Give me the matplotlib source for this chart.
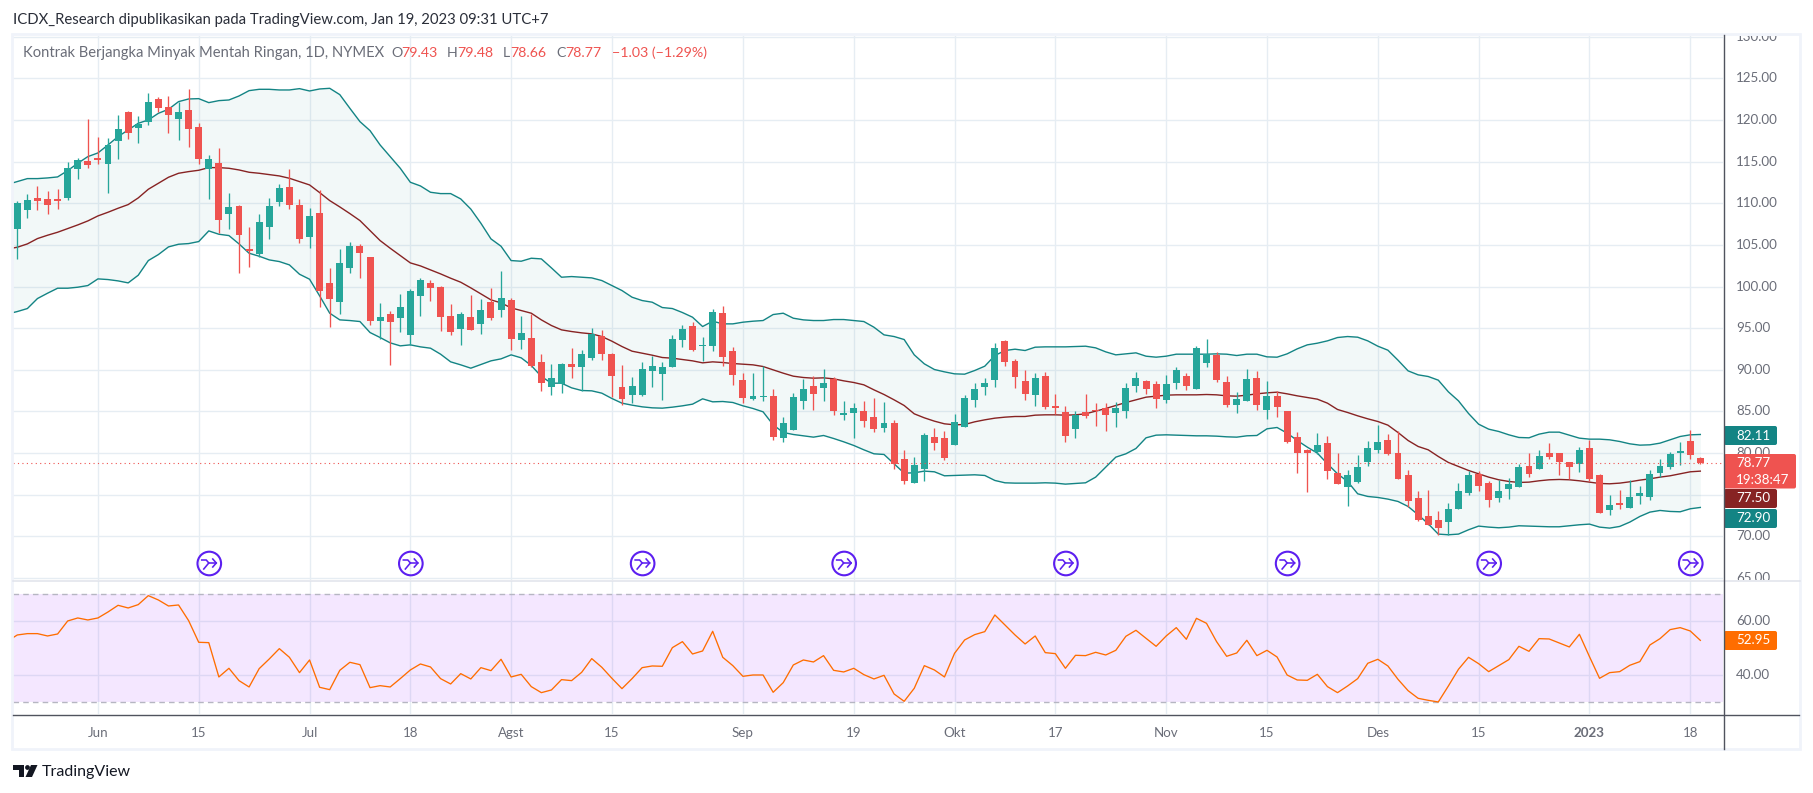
import matplotlib
matplotlib.use("Agg")
import matplotlib.pyplot as plt
import numpy as np
from matplotlib.patches import FancyBboxPatch, Rectangle, Circle, Polygon
from matplotlib.transforms import Bbox

plt.rcParams['font.family'] = ['Lato', 'DejaVu Sans']

opens = [106.92,109.20,110.64,110.52,110.52,110.64,114.12,115.04,115.44,114.72,117.48,120.96,119.04,119.76,122.52,121.56,120.12,121.20,119.16,114.12,
114.84,108.72,109.68,104.52,103.92,107.16,110.16,111.96,109.80,105.96,108.84,100.44,98.16,102.24,104.88,103.56,95.88,96.72,96.24,94.20,
98.88,100.44,99.96,96.52,94.96,96.40,95.56,98.20,97.24,98.44,93.64,93.88,91.00,88.00,88.36,90.76,90.40,91.48,94.12,91.96,
88.00,87.04,87.04,89.92,89.56,90.40,93.64,95.32,92.92,92.92,96.88,92.32,88.84,86.44,86.80,86.92,81.76,82.72,86.20,88.12,
87.88,88.96,84.52,84.76,85.00,84.28,82.96,83.56,79.24,76.36,78.04,81.88,81.76,80.92,83.08,86.32,88.00,88.84,93.52,91.12,
88.72,87.04,89.32,85.60,84.88,82.84,84.88,85.12,85.36,84.76,85.00,88.12,88.72,88.36,86.32,88.48,89.32,87.76,90.88,91.84,
88.60,85.72,86.20,89.08,85.12,86.92,85.00,81.88,80.32,80.08,81.16,77.56,75.96,76.56,78.96,80.40,81.60,80.04,77.40,74.64,
72.48,72.00,71.76,73.32,75.24,77.52,76.44,74.64,75.72,75.96,78.48,78.12,80.04,80.04,78.96,78.72,80.64,77.40,73.20,74.04,
73.44,74.88,74.76,77.64,78.36,80.04,81.48,79.43]
highs = [110.28,111.12,112.08,111.48,111.72,114.96,115.44,120.12,117.96,117.84,120.60,121.08,120.48,123.24,122.76,122.88,122.16,123.72,119.64,115.80,
116.64,111.24,109.80,107.16,108.72,110.64,112.32,114.12,110.52,109.44,111.60,102.24,104.52,105.36,105.12,103.56,98.04,97.08,99.12,99.72,
101.04,100.80,100.08,97.96,97.00,99.04,98.56,99.88,101.92,98.68,96.52,96.76,91.96,90.76,90.88,92.68,92.44,95.08,94.84,92.08,
90.64,89.20,91.00,91.72,91.00,94.24,95.44,95.80,94.00,97.36,97.72,92.80,89.68,89.68,90.52,87.76,84.28,87.28,88.96,89.32,
90.16,89.20,86.20,85.96,86.20,86.68,86.08,83.92,80.32,79.48,82.36,82.96,82.60,84.64,87.04,88.48,89.08,93.28,93.64,91.36,
90.04,89.68,89.80,87.16,85.60,85.00,87.16,85.96,85.96,86.08,88.48,89.80,88.84,88.72,89.44,90.40,89.68,92.92,93.76,92.20,
89.32,87.40,90.16,89.92,88.72,87.52,85.00,82.48,80.44,82.36,82.00,79.96,78.00,79.80,81.48,83.40,82.32,82.68,78.00,75.48,
75.60,73.08,74.04,76.44,77.88,77.88,76.68,76.80,77.04,78.72,80.04,80.40,81.24,80.04,78.96,80.76,81.60,77.52,75.00,75.60,
76.80,76.08,78.00,79.32,80.16,81.36,82.80,79.48]
lows = [103.36,108.24,109.20,108.72,109.32,110.40,112.92,114.24,114.72,111.24,115.32,117.72,117.24,119.40,120.96,118.44,117.60,116.76,114.72,110.52,
106.44,106.92,101.64,102.36,103.56,105.72,109.68,109.32,105.24,104.64,97.56,95.16,96.72,101.64,101.04,95.40,93.68,90.60,94.56,93.00,
96.48,98.28,94.68,94.24,93.04,94.84,94.36,96.04,96.40,92.44,92.56,90.40,87.52,87.04,87.28,89.08,87.52,91.24,91.24,86.80,
85.72,85.96,86.92,88.00,86.32,90.40,92.80,92.32,91.12,92.32,90.52,88.24,85.96,86.32,86.20,81.52,81.28,82.72,85.24,85.12,
86.20,84.52,83.92,81.76,83.08,82.48,82.48,78.04,76.24,76.36,76.60,80.32,79.12,80.92,83.08,85.48,87.04,88.00,90.52,87.88,
86.32,85.60,85.24,84.64,81.28,81.76,84.16,83.20,82.60,83.08,84.16,87.40,87.16,85.36,85.96,87.76,87.64,87.76,90.40,88.60,
85.48,84.76,86.20,85.12,84.04,84.28,81.16,77.56,75.28,79.84,76.84,76.24,73.68,76.44,78.48,80.04,79.80,76.92,73.56,71.88,
71.40,70.20,70.20,73.32,75.00,75.48,73.56,74.16,74.52,75.96,77.16,78.12,79.32,77.40,76.92,77.76,76.68,72.84,72.60,73.32,
73.44,73.92,74.40,77.16,78.12,78.60,79.32,78.66]
closes = [110.04,110.40,110.28,109.80,110.28,114.24,115.20,114.60,115.20,117.00,118.92,118.44,119.52,122.16,121.44,120.60,120.96,118.92,115.32,115.32,
108.00,109.56,106.20,104.28,107.76,109.68,111.84,109.80,105.72,108.48,99.48,98.52,102.84,104.88,104.04,95.88,96.36,95.70,97.56,99.48,
100.80,99.84,96.36,94.60,96.76,94.84,97.24,96.28,98.68,93.76,94.48,90.52,88.48,89.08,90.76,90.40,91.96,94.36,91.96,89.32,
86.44,88.12,90.16,90.52,90.40,93.76,94.96,92.44,93.04,97.00,91.60,89.44,86.56,86.92,86.92,81.88,83.56,86.80,87.76,87.16,
88.48,85.00,84.76,85.36,83.80,82.84,83.56,78.64,76.60,78.52,82.12,81.16,79.36,83.68,86.56,87.76,88.48,92.68,91.00,89.20,
87.16,89.08,85.48,85.36,82.00,84.52,84.40,85.00,84.52,85.36,87.88,89.08,87.76,86.44,88.36,90.04,88.12,92.68,91.96,88.84,
85.72,86.44,88.96,85.72,86.92,85.48,81.28,79.96,79.96,80.92,77.80,76.24,77.40,78.36,80.64,81.36,79.92,76.92,74.28,72.00,
71.40,71.04,73.32,75.48,77.40,76.08,74.40,75.48,76.32,78.36,77.52,79.68,79.56,78.96,78.36,80.40,76.92,72.84,73.80,73.80,
74.76,75.24,77.52,78.48,79.92,80.28,79.80,78.77]

# Bollinger bands and RSI start one bar before the first visible candle
upper = [112.25,112.60,112.96,112.96,113.04,113.16,113.92,114.80,115.60,116.04,117.00,118.00,118.80,119.60,120.00,120.80,121.28,122.20,122.52,122.56,122.08,
122.32,122.40,122.88,123.52,123.68,123.68,123.60,123.60,123.76,123.48,123.72,123.80,123.04,121.40,119.80,118.72,117.00,115.60,114.20,112.52,
112.08,111.32,111.16,111.16,110.52,109.30,107.60,105.72,104.84,103.12,103.04,103.40,103.32,102.24,101.12,101.20,101.12,101.04,100.72,100.12,
99.52,98.72,98.32,98.12,97.48,97.36,96.88,96.32,95.20,95.84,95.52,95.52,95.72,95.84,95.92,96.64,96.80,96.20,96.00,95.92,
95.92,96.04,96.04,95.92,95.80,95.12,94.20,94.00,93.64,91.80,90.72,90.04,89.76,89.52,89.48,89.92,90.44,91.72,92.32,92.48,
92.32,92.72,92.76,92.76,92.76,92.80,92.84,92.64,92.16,91.80,91.92,92.04,91.64,91.52,91.64,91.88,91.88,91.88,91.88,91.92,
91.88,91.72,91.88,91.88,91.56,91.52,91.92,92.52,93.00,93.20,93.48,93.88,94.00,93.92,93.48,92.84,92.36,91.16,89.88,89.40,
89.20,88.76,87.36,86.28,84.76,83.48,82.88,82.60,82.20,81.88,81.84,82.28,82.52,82.52,82.16,81.80,81.68,81.68,81.60,81.40,
81.12,80.96,81.00,81.20,81.60,82.00,82.20,82.24]
basis = [104.50,104.72,105.12,105.76,106.16,106.52,106.96,107.40,107.88,108.48,108.92,109.40,109.84,110.64,111.68,112.40,113.12,113.60,113.80,113.96,114.28,
114.28,114.20,114.00,113.72,113.60,113.44,113.28,113.00,112.60,112.20,111.28,110.32,109.56,108.76,107.92,106.72,105.52,104.60,103.72,102.84,
102.48,102.00,101.52,101.00,100.52,99.84,99.12,98.40,98.04,97.44,97.12,96.80,96.00,95.32,94.80,94.60,94.44,94.32,94.00,93.44,
92.80,92.24,92.00,91.76,91.48,91.40,91.24,91.08,90.84,90.96,90.88,90.76,90.68,90.60,90.40,90.00,89.60,89.24,89.08,89.00,
89.04,88.92,88.68,88.48,88.20,87.60,87.04,86.40,85.72,84.72,84.24,83.84,83.52,83.40,83.44,83.76,84.00,84.20,84.32,84.40,
84.40,84.56,84.60,84.60,84.56,84.60,84.72,85.04,85.36,85.72,86.08,86.40,86.72,86.84,86.96,87.00,87.00,87.00,87.04,87.00,
86.88,86.84,86.96,87.12,87.24,87.32,87.12,86.88,86.68,86.48,86.00,85.24,84.88,84.48,84.12,83.80,83.36,82.48,81.52,80.80,
80.40,79.60,78.88,78.40,77.92,77.52,77.12,76.80,76.60,76.48,76.52,76.68,76.80,76.84,76.80,76.68,76.52,76.36,76.32,76.40,
76.56,76.76,76.92,77.12,77.28,77.52,77.76,77.84]
lower = [96.70,97.00,97.36,98.56,99.20,99.80,99.80,99.92,100.12,100.92,100.84,100.68,100.44,101.36,103.12,103.84,104.76,105.08,105.16,105.40,106.68,
106.28,106.12,105.12,104.00,103.64,103.20,103.00,102.60,101.48,100.88,98.88,96.80,96.00,95.92,95.80,94.48,93.88,93.24,92.88,93.00,
92.76,92.60,91.88,90.96,90.60,90.20,90.64,91.08,91.32,91.80,91.44,90.52,89.20,88.40,88.40,87.84,87.52,87.48,87.20,86.56,
86.00,85.76,85.56,85.44,85.40,85.52,85.68,85.88,86.52,86.16,86.20,86.08,85.68,85.36,84.96,83.40,82.48,82.24,82.08,81.92,
82.12,81.76,81.36,80.92,80.40,79.92,79.84,78.72,77.60,77.64,77.84,77.76,77.28,77.32,77.36,77.40,77.32,76.72,76.44,76.40,
76.40,76.40,76.44,76.40,76.28,76.36,76.44,77.12,78.32,79.52,79.92,80.56,81.84,82.16,82.20,82.16,82.12,82.08,82.08,82.04,
81.96,81.92,82.08,82.12,82.92,83.08,82.40,81.52,80.72,80.00,78.72,77.52,76.60,75.12,74.80,74.68,74.48,74.20,73.60,72.60,
71.52,70.28,70.20,70.28,70.80,71.24,71.12,71.04,71.12,71.28,71.24,71.20,71.16,71.16,71.28,71.40,71.48,71.12,71.00,71.20,
71.72,72.40,72.92,73.12,73.00,72.96,73.32,73.48]
rsi = [52.60,54.94,55.44,55.44,54.57,55.31,60.13,61.24,60.50,61.24,63.46,65.93,64.94,66.18,69.51,67.90,65.68,66.05,60.25,52.23,52.10,
39.39,42.60,38.03,35.68,42.47,46.05,49.88,46.67,40.99,45.68,35.56,34.69,41.85,44.82,43.95,35.43,36.17,35.68,38.77,41.98,
44.20,43.09,38.77,36.79,40.62,38.65,42.84,41.73,45.93,39.39,40.37,35.81,33.58,34.57,38.40,38.03,41.11,46.18,42.97,38.89,
35.06,38.77,42.84,43.46,43.34,50.25,52.47,47.90,49.02,56.30,46.67,43.58,39.63,40.12,40.12,33.71,37.29,43.83,45.68,44.94,
47.29,41.85,41.24,42.60,40.25,38.65,40.00,33.09,30.37,35.19,43.58,41.98,39.39,48.15,53.09,55.07,56.18,62.35,58.65,54.94,
51.61,54.57,48.40,48.03,42.60,47.41,47.29,48.52,47.53,49.26,54.45,56.67,53.71,50.74,54.57,57.66,53.34,61.11,59.26,52.47,
47.04,48.27,52.97,47.29,49.26,46.79,40.12,38.27,38.15,40.37,35.81,33.58,36.05,38.77,44.45,45.93,43.46,38.52,34.32,31.48,
30.74,30.13,36.05,42.22,46.67,44.32,41.36,43.58,45.81,50.74,48.89,53.58,53.46,51.98,50.50,55.19,46.92,38.89,40.99,41.36,
43.71,45.07,51.24,53.58,56.92,57.66,56.42,52.95]

x_tick_bars = [8, 18, 29, 39, 49, 59, 72, 83, 93, 103, 114, 124, 135, 145, 156, 166]
x_tick_labels = ['Jun', '15', 'Jul', '18', 'Agst', '15', 'Sep', '19', 'Okt', '17', 'Nov', '15', 'Des', '15', '2023', '18']
price_ticks = [130, 125, 120, 115, 110, 105, 100, 95, 90, 85, 80, 75, 70, 65]
rsi_ticks = [60, 40]
event_bars = [19, 39, 62, 82, 104, 126, 146, 166]

W, H = 1813, 793
L, R = 13, 1723
BAR0, BARW = 17.3, 10.078
GREEN, RED = '#26a69a', '#ef5350'
TEAL, MAROON = '#138484', '#872323'
GRID = '#e6edf3'
LABEL = '#6a6d78'
FS_AXIS = 9.6

def rect(top, bottom, left=L, right=R):
    return [left / W, 1 - bottom / H, (right - left) / W, (bottom - top) / H]

xlim = ((L - BAR0) / BARW, (R - BAR0) / BARW)
fig = plt.figure(figsize=(W / 100, H / 100), dpi=100, facecolor='white')
ax = fig.add_axes(rect(35.5, 580))
ar = fig.add_axes(rect(581, 714.3))
ov = fig.add_axes([0, 0, 1, 1], zorder=10)
ov.set_xlim(0, W); ov.set_ylim(H, 0); ov.axis('off'); ov.patch.set_alpha(0)

bars = np.arange(len(closes))
band_x = np.arange(len(upper)) - 1

# ---------- price pane
ax.set_xlim(*xlim)
ax.set_ylim(64.77, 130.14)
ax.set_yticks(price_ticks)
ax.set_xticks(x_tick_bars)
ax.tick_params(length=0, labelleft=False, labelbottom=False)
ax.grid(True, color=GRID, lw=1.0, zorder=0)
ax.set_axisbelow(True)
for s in ax.spines.values():
    s.set_visible(False)
ax.fill_between(band_x, lower, upper, color=TEAL, alpha=0.05, lw=0, zorder=1)
ax.plot(band_x, upper, color=TEAL, lw=1.0, zorder=2)
ax.plot(band_x, lower, color=TEAL, lw=1.0, zorder=2)
ax.plot(band_x, basis, color=MAROON, lw=1.0, zorder=2)
o, h, l, c = map(np.array, (opens, highs, lows, closes))
cols = np.where(c >= o, GREEN, RED)
ax.vlines(bars, l, h, colors=cols, lw=0.95, zorder=3)
ax.bar(bars, np.maximum(np.abs(c - o), 0.12), bottom=np.minimum(o, c), width=0.69, color=cols, lw=0, zorder=4)
ax.axhline(closes[-1], color=RED, lw=0.8, ls=(0, (1, 3)), zorder=5)

clip_top = Bbox.from_extents(R, H - 580, W, H - 36)
for p in price_ticks:
    t = ax.text(1736, 0, f'{p:.2f}', transform=ax.get_yaxis_transform(), fontsize=FS_AXIS, color=LABEL, va='center', ha='left')
    t.set_position((1 + (1736 - R) / (R - L), p))
    t.set_clip_on(True); t.set_clip_box(clip_top)

# ---------- RSI pane
ar.set_xlim(*xlim)
ar.set_ylim(25.56, 74.93)
ar.set_yticks(rsi_ticks)
ar.set_xticks(x_tick_bars)
ar.set_xticklabels(x_tick_labels)
ar.tick_params(length=0, labelleft=False, pad=9.5, labelsize=FS_AXIS, labelcolor=LABEL)
for lbl in ar.get_xticklabels():
    if lbl.get_text() == '2023':
        lbl.set_fontweight('bold')
ar.grid(True, color=GRID, lw=1.0, zorder=0)
ar.set_axisbelow(True)
for s in ar.spines.values():
    s.set_visible(False)
ar.axhspan(30, 70, color='#9a1fff', alpha=0.105, lw=0, zorder=1)
for lev in (70, 30):
    ar.axhline(lev, color='#b6b6c2', lw=1.0, ls=(0, (4, 3)), zorder=2)
ar.plot(band_x, rsi, color='#ff6d00', lw=0.95, zorder=3)
for p in rsi_ticks:
    ar.text(1 + (1736 - R) / (R - L), p, f'{p:.2f}', transform=ar.get_yaxis_transform(), fontsize=FS_AXIS, color=LABEL, va='center', ha='left')

# ---------- frame
ov.add_patch(Rectangle((12, 34), 1788, 715, fill=False, ec='#f0f3fa', lw=2.0))
ov.plot([13, 1800], [580.5, 580.5], color='#e0e3eb', lw=1.1)
ov.plot([1723.5, 1723.5], [35, 749], color='#50535e', lw=1.0)
ov.plot([13, 1799], [714.5, 714.5], color='#50535e', lw=1.0)

# ---------- tags
def tag(top, bottom, right, color, lines):
    ov.add_patch(FancyBboxPatch((1724, top), right - 1724, bottom - top, boxstyle='round,pad=0,rounding_size=2', fc=color, ec='none'))
    n = len(lines)
    for k, s in enumerate(lines):
        ov.text(1736, top + (bottom - top) * (k + 0.5) / n, s, color='white', fontsize=FS_AXIS, va='center', ha='left')

tag(426, 445, 1777, TEAL, ['82.11'])
tag(454, 488.5, 1796, RED, ['78.77', '19:38:47'])
tag(489, 508, 1777, MAROON, ['77.50'])
tag(509, 528, 1777, TEAL, ['72.90'])
tag(631, 650, 1777, '#ff6d00', ['52.95'])

# ---------- event icons
VIOLET = '#5c1ff0'
for b in event_bars:
    cx, cy = BAR0 + BARW * b + 0.5, 563.5
    ov.add_patch(Circle((cx, cy), 11.8, fill=False, ec=VIOLET, lw=1.5))
    ov.plot([cx - 7.5, cx - 3, cx - 0.5, cx + 7], [cy - 3.5, cy - 3.5, cy - 0.5, cy - 0.5], color=VIOLET, lw=1.15)
    ov.plot([cx - 5.5, cx - 0.5], [cy + 5.5, cy - 0.5], color=VIOLET, lw=1.15)
    ov.plot([cx + 3.5, cx + 7, cx + 3.5], [cy - 4.5, cy - 0.5, cy + 3.5], color=VIOLET, lw=1.15)

# ---------- texts
ov.text(13, 20, 'ICDX_Research dipublikasikan pada TradingView.com, Jan 19, 2023 09:31 UTC+7', fontsize=10.75, color='#2a2e39', va='center')
GREY = '#6a6d78'
ov.text(23, 53, 'Kontrak Berjangka Minyak Mentah Ringan, 1D, NYMEX', fontsize=10.6, color=GREY, va='center')
for xp, s, col in [(391, 'O', GREY), (401.5, '79.43', RED),
                   (447, 'H', GREY), (457, '79.48', RED),
                   (503, 'L', GREY), (510.5, '78.66', RED),
                   (556.5, 'C', GREY), (565, '78.77', RED),
                   (612, '\u22121.03 (\u22121.29%)', RED)]:
    ov.text(xp, 53, s, fontsize=10.2, color=col, va='center')

# ---------- TradingView logo
ov.add_patch(Polygon([(13, 765), (24, 765), (24, 777), (19, 777), (19, 770), (13, 770)], fc='#131722', ec='none'))
ov.add_patch(Circle((27.5, 767.5), 2.4, fc='#131722', ec='none'))
ov.add_patch(Polygon([(31, 765), (37.5, 765), (32, 777), (25.5, 777)], fc='#131722', ec='none'))
ov.text(41.5, 772, 'TradingView', fontsize=11.5, color='#131722', va='center')

fig.savefig('out.png', dpi=100)
